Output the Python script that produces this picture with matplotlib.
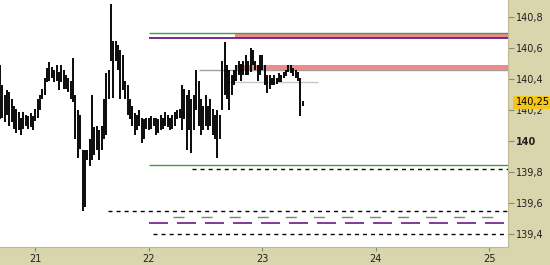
import numpy as np
import matplotlib
matplotlib.use("Agg")
import matplotlib.pyplot as plt
from matplotlib.patches import Rectangle
from matplotlib.transforms import blended_transform_factory

# 30-minute bars, first bar at day 20.69
start_day = 20.69
bar_step = 1 / 48

highs = [140.49, 140.36, 140.30, 140.33, 140.32, 140.27, 140.23, 140.21, 140.19, 140.15,
         140.19, 140.17, 140.16, 140.18, 140.16, 140.21, 140.27, 140.30, 140.34, 140.41,
         140.47, 140.51, 140.48, 140.46, 140.49, 140.45, 140.49, 140.46, 140.43, 140.41,
         140.39, 140.54, 140.30, 140.20, 140.17, 139.94, 139.94, 139.94, 140.01, 140.30,
         140.09, 140.10, 140.07, 140.10, 140.27, 140.44, 140.46, 140.89, 140.65, 140.65,
         140.62, 140.59, 140.56, 140.39, 140.36, 140.27, 140.23, 140.18, 140.17, 140.20,
         140.15, 140.14, 140.15, 140.15, 140.16, 140.15, 140.15, 140.14, 140.17, 140.15,
         140.19, 140.17, 140.15, 140.17, 140.19, 140.20, 140.21, 140.36, 140.34, 140.30,
         140.33, 140.27, 140.30, 140.46, 140.39, 140.27, 140.23, 140.30, 140.23, 140.27,
         140.21, 140.17, 140.20, 140.17, 140.52, 140.64, 140.49, 140.46, 140.43, 140.46,
         140.49, 140.52, 140.50, 140.52, 140.56, 140.52, 140.60, 140.59, 140.52, 140.49,
         140.56, 140.56, 140.49, 140.43, 140.43, 140.41, 140.43, 140.41, 140.44, 140.43,
         140.45, 140.46, 140.49, 140.49, 140.47, 140.46, 140.45, 140.41, 140.26]
lows = [140.14, 140.15, 140.12, 140.17, 140.10, 140.12, 140.08, 140.05, 140.07, 140.04,
        140.08, 140.10, 140.08, 140.09, 140.07, 140.13, 140.15, 140.20, 140.27, 140.30,
        140.38, 140.39, 140.41, 140.38, 140.39, 140.33, 140.38, 140.34, 140.34, 140.32,
        140.27, 140.25, 140.01, 139.89, 139.95, 139.55, 139.57, 139.88, 139.84, 139.88,
        139.91, 139.94, 139.88, 139.94, 140.01, 140.04, 140.27, 140.52, 140.28, 140.52,
        140.46, 140.27, 140.33, 140.27, 140.17, 140.14, 140.10, 140.04, 140.07, 140.10,
        139.99, 140.01, 140.08, 140.07, 140.08, 140.10, 140.04, 140.05, 140.07, 140.08,
        140.10, 140.09, 140.07, 140.08, 140.10, 140.14, 140.15, 140.07, 140.14, 139.94,
        140.07, 139.92, 140.07, 140.20, 140.10, 140.04, 140.07, 140.10, 140.07, 140.10,
        140.04, 140.01, 139.89, 140.01, 140.20, 140.30, 140.27, 140.20, 140.30, 140.36,
        140.39, 140.43, 140.39, 140.43, 140.43, 140.43, 140.45, 140.49, 140.46, 140.39,
        140.43, 140.46, 140.36, 140.31, 140.34, 140.36, 140.36, 140.37, 140.38, 140.38,
        140.41, 140.42, 140.45, 140.44, 140.42, 140.41, 140.39, 140.16, 140.23]

last_price = 140.25

# horizontal levels: (price, start day)
green_levels = [(140.70, 22.0), (139.845, 22.0)]
purple_level = (140.668, 22.0)
zones = [(140.668, 140.695, 22.76), (140.46, 140.492, 22.76)]
grey_level = (140.46, 22.44)
light_grey_level = (140.38, 22.67, 23.49)
black_dashed = [(139.82, 22.38), (139.548, 21.64), (139.40, 22.04)]
grey_dashed = (139.509, 22.215)
purple_dashed = (139.472, 22.0)

day_ticks = [21, 22, 23, 24, 25]
price_ticks = [139.4, 139.6, 139.8, 140.0, 140.2, 140.4, 140.6, 140.8]

tan = "#d9d5ad"
x_end = 25.165

fig = plt.figure(figsize=(5.5, 2.65), dpi=100, facecolor=tan)
ax = fig.add_axes([0, 18 / 265, 508 / 550, 247 / 265])
ax.set_facecolor("white")

for lo, hi, x0 in zones:
    ax.fill_between([x0, x_end], lo, hi, color="#f08a8a", lw=0, zorder=2)
ax.hlines(grey_level[0], grey_level[1], x_end, color="#a0a0a0", lw=1, zorder=1)
ax.hlines(light_grey_level[0], light_grey_level[1], light_grey_level[2],
          color="#c8c8c8", lw=1, zorder=1)
for p, x0 in green_levels:
    ax.hlines(p, x0, x_end, color="#3f9e3f", lw=1, zorder=3)
ax.hlines(purple_level[0], purple_level[1], x_end, color="#6a1a8a", lw=1.3, zorder=3)

for p, x0 in black_dashed:
    ax.plot([x0, x_end], [p, p], color="black", lw=1, dashes=(2.9, 2.9), zorder=3)
ax.plot([grey_dashed[1], x_end], [grey_dashed[0]] * 2, color="#808080", lw=1,
        dashes=(8, 12.2), zorder=3)
ax.plot([purple_dashed[1], x_end], [purple_dashed[0]] * 2, color="#6a1a8a", lw=1.2,
        dashes=(11.4, 5.4), zorder=3)

# price bars: high-low strokes
times = [start_day + i * bar_step for i in range(len(highs))]
ax.vlines(times, lows, highs, color="black", lw=1.35, zorder=4)

ax.set_xlim(20.692, x_end)
ax.set_ylim(139.314, 140.913)

ax.yaxis.tick_right()
ax.set_yticks(price_ticks)
ax.set_yticklabels([f"{v:.1f}".replace(".", ",").replace(",0", "") for v in price_ticks])
for lab in ax.get_yticklabels():
    if lab.get_text() == "140":
        lab.set_fontweight("bold")
ax.set_xticks(day_ticks)
ax.set_xticklabels([str(d) for d in day_ticks])
ax.tick_params(axis="y", length=4, width=0.8, color="#8a8a7a", pad=2, labelsize=7,
               labelcolor="#202020")
ax.tick_params(axis="x", length=3, width=0.8, color="#8a8a7a", pad=2, labelsize=7,
               labelcolor="#202020")
for side in ["top", "left"]:
    ax.spines[side].set_visible(False)
for side in ["right", "bottom"]:
    ax.spines[side].set_color("#bdb995")
    ax.spines[side].set_linewidth(0.8)

# current price marker on the right axis
trans = blended_transform_factory(fig.transFigure, ax.transData)
ax.add_patch(Rectangle((513 / 550, last_price - 0.045), 37 / 550, 0.085, transform=trans,
                       facecolor="#f5c518", edgecolor="none", clip_on=False, zorder=10))
ax.text(516 / 550, last_price, f"{last_price:.2f}".replace(".", ","), transform=trans,
        ha="left", va="center", fontsize=7, color="black", zorder=11, clip_on=False)

fig.savefig("out.png", dpi=100, facecolor=tan)
